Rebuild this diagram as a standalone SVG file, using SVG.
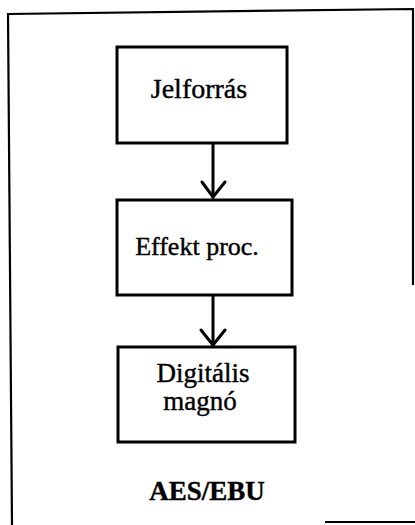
<svg xmlns="http://www.w3.org/2000/svg" width="415" height="525" viewBox="0 0 415 525">
<style>
.box{fill:#fff;stroke:#000;stroke-width:3}
.frame{fill:none;stroke:#000;stroke-width:2.2}
.lbl{font-family:"Liberation Serif","Times New Roman",serif;fill:#000;stroke:#000;stroke-width:0.4;text-anchor:middle}
.conn{fill:none;stroke:#000;stroke-width:3;stroke-linecap:round;stroke-linejoin:miter}
</style>
<rect width="415" height="525" fill="#fff"/>
<g id="frame">
<polyline class="frame" points="12,525 8,14 413,9 413,285"/>
<line class="frame" x1="325" y1="522" x2="415" y2="522"/>
</g>
<g id="connectors">
<line class="conn" x1="213" y1="144" x2="213" y2="197"/>
<polyline class="conn" points="202,182 213,197 225,182"/>
<line class="conn" x1="213" y1="296" x2="213" y2="345"/>
<polyline class="conn" points="201,330 213,345 225,330"/>
</g>
<g id="node-jelforras">
<rect class="box" x="117" y="47" width="170" height="96"/>
<text class="lbl" x="199" y="98" font-size="28">Jelforrás</text>
</g>
<g id="node-effekt">
<rect class="box" x="117" y="200" width="175" height="95"/>
<text class="lbl" x="197" y="255" font-size="26">Effekt proc.</text>
</g>
<g id="node-digitalis">
<rect class="box" x="118" y="347" width="177" height="95"/>
<text class="lbl" x="203" y="382" font-size="27">Digitális</text>
<text class="lbl" x="200" y="410" font-size="27">magnó</text>
</g>
<g id="label-aes">
<text class="lbl" x="207" y="500" font-size="27" font-weight="bold">AES/EBU</text>
</g>
</svg>
